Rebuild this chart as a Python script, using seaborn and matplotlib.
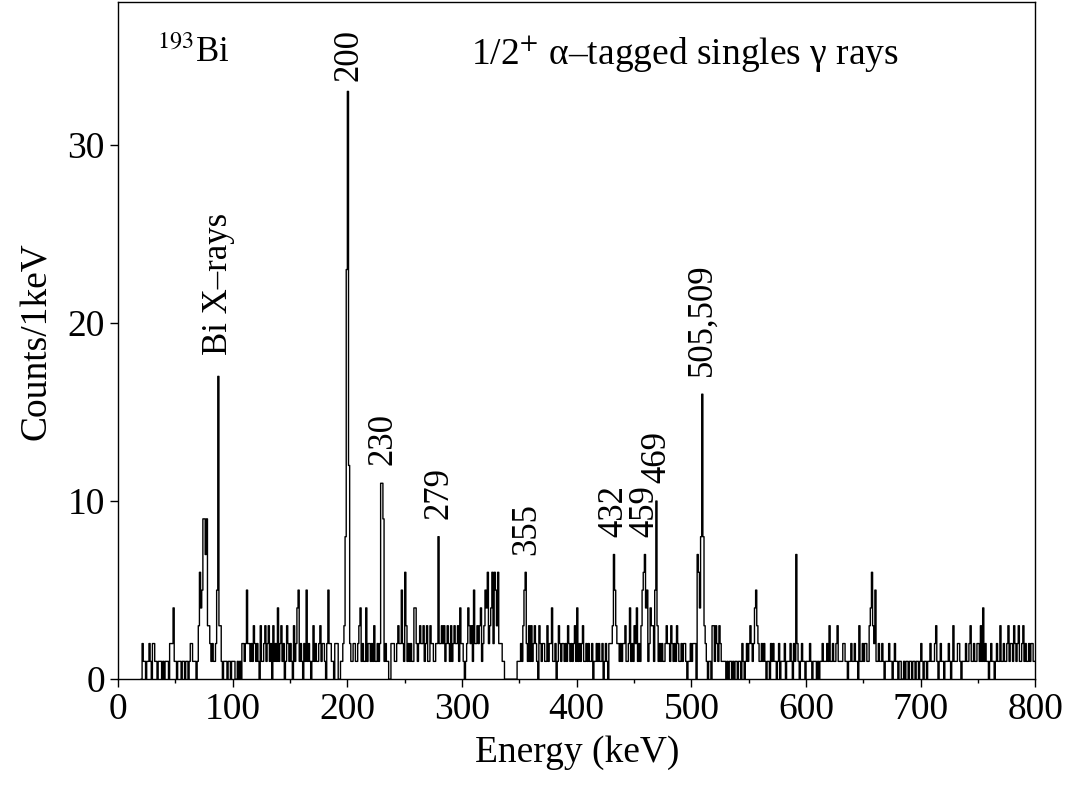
import numpy as np
import pandas as pd
import matplotlib
matplotlib.use("Agg")
import matplotlib.pyplot as plt
import seaborn as sns
from matplotlib.ticker import MultipleLocator

# Spectrum: counts per 1 keV bin, starting at 20 keV
start_kev = 20
counts = [
    0,2,1,1,0,1,1,2,1,0,
    2,2,1,1,0,1,1,1,0,1,
    0,1,1,1,0,2,2,2,4,1,
    1,0,1,1,1,0,1,1,0,1,
    1,0,1,2,2,1,1,1,0,1,
    3,6,4,5,9,9,7,9,3,3,
    2,1,2,1,1,2,5,17,3,3,
    1,0,1,1,1,0,1,1,0,1,
    1,1,0,0,1,0,1,0,2,2,
    1,2,5,2,2,1,2,1,3,2,
    1,2,1,0,3,1,1,2,3,1,
    2,3,1,2,0,3,1,2,1,4,
    1,2,3,1,2,0,1,3,2,1,
    2,1,0,3,1,2,4,5,1,2,
    1,0,2,1,5,1,2,1,0,1,
    3,1,2,1,1,2,3,1,2,2,
    1,0,2,5,2,2,1,1,0,2,
    2,2,0,0,1,1,2,3,8,23,
    33,12,2,1,1,2,2,1,1,2,
    3,4,1,2,1,1,4,1,2,2,
    1,2,1,3,1,1,2,1,2,11,
    11,9,1,2,1,1,0,0,2,2,
    2,1,1,2,3,2,2,5,2,1,
    6,3,1,2,1,2,1,1,4,4,
    2,1,2,3,2,2,3,1,2,3,
    1,1,3,2,2,1,1,2,2,8,
    2,2,3,2,3,1,2,3,2,1,
    3,1,2,3,2,2,3,1,4,2,
    2,1,0,1,2,4,3,2,3,1,
    5,2,2,3,2,3,4,1,2,3,
    5,4,6,2,3,4,6,2,6,5,
    3,6,2,2,2,1,1,0,0,0,
    0,0,0,0,0,0,0,0,1,1,
    1,2,1,3,5,6,2,1,3,1,
    3,1,2,3,2,1,0,3,2,1,
    2,2,1,1,3,1,2,2,4,1,
    1,2,0,1,3,2,1,2,2,1,
    2,1,3,2,1,2,1,2,3,1,
    4,1,2,1,2,3,1,1,2,1,
    2,1,1,2,0,1,1,2,1,2,
    1,1,2,0,1,2,1,0,2,2,
    2,3,7,5,3,2,2,1,2,1,
    2,2,3,1,1,2,4,1,2,1,
    3,2,4,1,2,1,3,5,6,7,
    4,5,1,2,4,3,3,1,5,10,
    3,1,2,1,2,1,1,2,3,2,
    2,1,3,2,1,2,1,3,2,1,
    1,2,1,2,2,1,0,1,1,2,
    1,2,2,2,0,7,6,4,8,16,
    8,3,2,1,0,1,1,0,3,3,
    1,3,2,1,3,2,1,1,1,1,
    0,1,0,1,1,0,1,0,1,1,
    0,1,1,0,2,1,0,1,2,1,
    2,3,2,1,2,4,5,3,2,1,
    1,2,1,2,1,0,1,1,0,2,
    1,2,1,1,0,1,2,0,1,1,
    1,2,0,1,1,1,2,1,0,2,
    1,7,2,1,0,1,2,1,1,0,
    1,1,1,2,1,0,1,1,1,0,
    1,0,1,1,2,1,1,1,2,1,
    3,1,1,2,1,1,2,3,1,1,
    1,1,2,2,1,1,0,1,1,2,
    1,1,2,1,1,0,3,1,1,2,
    1,2,2,1,1,3,4,6,3,2,
    5,1,1,2,1,1,2,1,0,1,
    1,1,2,1,1,0,1,2,1,1,
    0,1,1,0,0,1,0,1,1,0,
    1,1,0,1,1,0,1,1,0,1,
    2,1,0,1,1,0,1,1,2,1,
    1,1,2,3,1,0,1,2,1,1,
    0,1,1,1,2,1,0,1,3,1,
    1,1,2,2,1,0,1,1,1,2,
    1,1,2,3,1,1,2,1,1,2,
    2,1,3,1,4,1,2,1,1,0,
    1,2,1,1,0,1,2,1,1,3,
    1,1,2,1,1,2,3,1,2,2,
    1,3,2,1,2,3,1,1,2,3,
    1,2,1,1,2,1,2,2,1,1,
]

peak_labels = ["Bi X\u2013rays", "200", "230", "279", "355", "432", "459", "469", "505,509"]
peak_x = [88, 201, 231, 280, 356, 432, 459, 470, 509]
peak_y = [18.2, 33.6, 12.0, 9.0, 7.0, 8.0, 8.0, 11.0, 17.0]

x_ticks = [0, 100, 200, 300, 400, 500, 600, 700, 800]
y_ticks = [0, 10, 20, 30]

energies = np.arange(start_kev, start_kev + len(counts)) + 0.5
df = pd.DataFrame({"energy": energies, "counts": np.asarray(counts, dtype=float)})

sns.set_theme(style="ticks")
plt.rcParams["font.family"] = ["Liberation Serif", "DejaVu Serif"]
plt.rcParams["mathtext.fontset"] = "stix"
plt.rcParams["text.color"] = "black"
plt.rcParams["axes.labelcolor"] = "black"
plt.rcParams["xtick.color"] = "black"
plt.rcParams["ytick.color"] = "black"

fig = plt.figure(figsize=(10.68, 7.87), dpi=100)
ax = fig.add_axes([0.1105, 0.137, 0.859, 0.860])

sns.histplot(data=df, x="energy", weights="counts",
             binwidth=1, binrange=(start_kev, start_kev + len(counts)),
             element="step", fill=False, color="black", linewidth=1.0, ax=ax)

ax.set_xlim(0, 800)
ax.set_ylim(0, 38)
ax.set_xticks(x_ticks)
ax.set_yticks(y_ticks)
ax.xaxis.set_minor_locator(MultipleLocator(50))
ax.tick_params(axis="both", which="major", labelsize=27, length=6, width=1,
               direction="out", colors="black")
ax.tick_params(axis="x", which="minor", length=3, width=1, direction="out")
ax.set_xlabel("Energy (keV)", fontsize=27, labelpad=6)
ax.set_ylabel("Counts/1keV", fontsize=27, labelpad=10)
for s in ax.spines.values():
    s.set_visible(True)
    s.set_linewidth(1.0)
    s.set_color("black")

for lab, px, py in zip(peak_labels, peak_x, peak_y):
    ax.text(px, py, lab, rotation=90, ha="center", va="bottom", fontsize=25)

ax.text(0.042, 0.925, "$^{193}$Bi", transform=ax.transAxes, fontsize=25,
        ha="left", va="center")
ax.text(0.385, 0.925, "1/2$^{+}$ \u03b1\u2013tagged singles \u03b3 rays",
        transform=ax.transAxes, fontsize=27, ha="left", va="center")

fig.savefig("out.png", dpi=100)
